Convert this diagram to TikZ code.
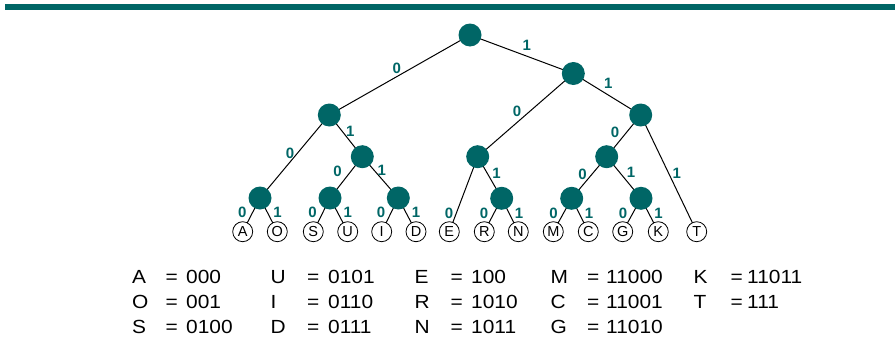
\documentclass[tikz,border=0pt]{standalone}
\usepackage{fontspec}
\setmainfont{Liberation Sans}
\newfontfamily\tablefont[FakeStretch=1.1]{Liberation Sans}
\definecolor{hteal}{RGB}{0,102,102}
\pgfdeclarelayer{bg}
\pgfsetlayers{bg,main}
\tikzset{
  inner/.style={circle, fill=hteal, minimum size=23pt, inner sep=0pt},
  leaf/.style={circle, draw, line width=0.8pt, fill=white, minimum size=20pt, inner sep=0pt, font=\fontsize{14.5}{14.5}\selectfont},
  lbl/.style={text=hteal, font=\bfseries\fontsize{15}{15}\selectfont, inner sep=0pt},
  treeedge/.style={line width=1pt},
  entry/.style={anchor=base west, inner sep=0pt, font=\tablefont\fontsize{19}{23}\selectfont}
}
\begin{document}
\begin{tikzpicture}[x=1pt,y=-1pt]
\useasboundingbox (0,0) rectangle (895,343);
\fill[hteal] (5,4) rectangle (895,10);
% internal nodes
\node[inner] (n) at (470,35) {};
\node[inner] (n0) at (329.3,115) {};
\node[inner] (n1) at (573.3,73.5) {};
\node[inner] (n00) at (260,198) {};
\node[inner] (n01) at (362.3,156.7) {};
\node[inner] (n010) at (330,198) {};
\node[inner] (n011) at (398.3,198) {};
\node[inner] (n10) at (477.7,156.7) {};
\node[inner] (n101) at (501.7,198.3) {};
\node[inner] (n11) at (640.7,115) {};
\node[inner] (n110) at (606.7,156.7) {};
\node[inner] (n1100) at (571.7,198.3) {};
\node[inner] (n1101) at (641,198.3) {};
% leaves
\node[leaf] (lA) at (242.7,231.7) {A};
\node[leaf] (lO) at (277.3,231.7) {O};
\node[leaf] (lS) at (313.3,231.7) {S};
\node[leaf] (lU) at (347.7,231.7) {U};
\node[leaf] (lI) at (381.7,231.7) {I};
\node[leaf] (lD) at (416,231.7) {D};
\node[leaf] (lE) at (449.3,231.7) {E};
\node[leaf] (lR) at (484.3,231.7) {R};
\node[leaf] (lN) at (518.3,231.7) {N};
\node[leaf] (lM) at (553.3,231.7) {M};
\node[leaf] (lC) at (588.3,231.7) {C};
\node[leaf] (lG) at (622.7,231.7) {G};
\node[leaf] (lK) at (658.3,231.7) {K};
\node[leaf] (lT) at (696.7,231.7) {T};
% edges
\begin{pgfonlayer}{bg}
\draw[treeedge] (n.center) -- node[lbl,pos=.52,yshift=8.4pt] (e0) {0} (n0.center);
\draw[treeedge] (n.center) -- node[lbl,pos=.55,yshift=11pt] (e1) {1} (n1.center);
\draw[treeedge] (n1.center) -- node[lbl,pos=.45,xshift=-13.2pt] (e10) {0} (n10.center);
\draw[treeedge] (n1.center) -- node[lbl,pos=.52,yshift=12pt] (e11) {1} (n11.center);
\draw[treeedge] (n0.center) -- node[lbl,pos=.46,xshift=-7.4pt] (e00) {0} (n00.center);
\draw[treeedge] (n0.center) -- node[lbl,pos=.40,xshift=7.9pt] (e01) {1} (n01.center);
\draw[treeedge] (n01.center) -- node[lbl,pos=.36,xshift=-13.2pt] (e010) {0} (n010.center);
\draw[treeedge] (n01.center) -- node[lbl,pos=.33,xshift=7.7pt] (e011) {1} (n011.center);
\draw[treeedge] (n10.center) -- node[lbl,pos=.75,xshift=-7.4pt] (e100) {0} (lE.center);
\draw[treeedge] (n10.center) -- node[lbl,pos=.41,xshift=9pt] (e101) {1} (n101.center);
\draw[treeedge] (n11.center) -- node[lbl,pos=.42,xshift=-11.4pt] (e110) {0} (n110.center);
\draw[treeedge] (n11.center) -- node[lbl,pos=.5,xshift=8pt] (e111) {1} (lT.center);
\draw[treeedge] (n110.center) -- node[lbl,pos=.42,xshift=-9.4pt] (e1100) {0} (n1100.center);
\draw[treeedge] (n110.center) -- node[lbl,pos=.38,xshift=11.3pt] (e1101) {1} (n1101.center);
\draw[treeedge] (n00.center) -- node[lbl,pos=.44,xshift=-10pt] (eA) {0} (lA.center);
\draw[treeedge] (n00.center) -- node[lbl,pos=.44,xshift=10pt] (eO) {1} (lO.center);
\draw[treeedge] (n010.center) -- node[lbl,pos=.44,xshift=-10pt] (eS) {0} (lS.center);
\draw[treeedge] (n010.center) -- node[lbl,pos=.44,xshift=10pt] (eU) {1} (lU.center);
\draw[treeedge] (n011.center) -- node[lbl,pos=.44,xshift=-10pt] (eI) {0} (lI.center);
\draw[treeedge] (n011.center) -- node[lbl,pos=.44,xshift=10pt] (eD) {1} (lD.center);
\draw[treeedge] (n101.center) -- node[lbl,pos=.44,xshift=-10pt] (eR) {0} (lR.center);
\draw[treeedge] (n101.center) -- node[lbl,pos=.44,xshift=10pt] (eN) {1} (lN.center);
\draw[treeedge] (n1100.center) -- node[lbl,pos=.44,xshift=-10pt] (eM) {0} (lM.center);
\draw[treeedge] (n1100.center) -- node[lbl,pos=.44,xshift=10pt] (eC) {1} (lC.center);
\draw[treeedge] (n1101.center) -- node[lbl,pos=.44,xshift=-10pt] (eG) {0} (lG.center);
\draw[treeedge] (n1101.center) -- node[lbl,pos=.44,xshift=10pt] (eK) {1} (lK.center);
\end{pgfonlayer}
% code table
\node[entry] (cA) at (132,283) {\makebox[33.5pt][l]{A}\makebox[20.5pt][l]{=}000};
\node[entry] (cO) at (132,308) {\makebox[33.5pt][l]{O}\makebox[20.5pt][l]{=}001};
\node[entry] (cS) at (132,333) {\makebox[33.5pt][l]{S}\makebox[20.5pt][l]{=}0100};
\node[entry] (cU) at (270.5,283) {\makebox[36.5pt][l]{U}\makebox[21pt][l]{=}0101};
\node[entry] (cI) at (270.5,308) {\makebox[36.5pt][l]{I}\makebox[21pt][l]{=}0110};
\node[entry] (cD) at (270.5,333) {\makebox[36.5pt][l]{D}\makebox[21pt][l]{=}0111};
\node[entry] (cE) at (414.5,283) {\makebox[36pt][l]{E}\makebox[20.5pt][l]{=}100};
\node[entry] (cR) at (414.5,308) {\makebox[36pt][l]{R}\makebox[20.5pt][l]{=}1010};
\node[entry] (cN) at (414.5,333) {\makebox[36pt][l]{N}\makebox[20.5pt][l]{=}1011};
\node[entry] (cM) at (550.5,283) {\makebox[36.5pt][l]{M}\makebox[19pt][l]{=}11000};
\node[entry] (cC) at (550.5,308) {\makebox[36.5pt][l]{C}\makebox[19pt][l]{=}11001};
\node[entry] (cG) at (550.5,333) {\makebox[36.5pt][l]{G}\makebox[19pt][l]{=}11010};
\node[entry] (cK) at (693.5,283) {\makebox[37pt][l]{K}\makebox[16.5pt][l]{=}11011};
\node[entry] (cT) at (693.5,308) {\makebox[37pt][l]{T}\makebox[16.5pt][l]{=}111};
\end{tikzpicture}
\end{document}
